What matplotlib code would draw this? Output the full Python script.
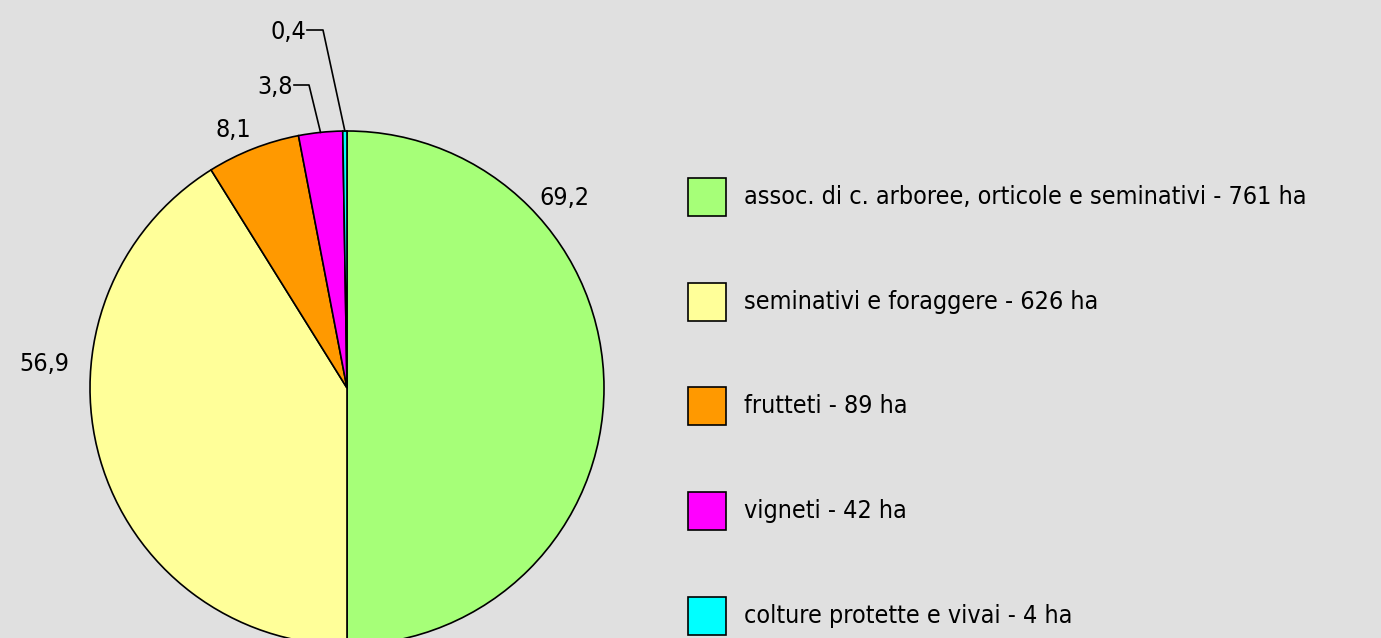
import matplotlib.pyplot as plt
import numpy as np

# Data
categories = ["assoc. di c. arboree, orticole e seminativi", "seminativi e foraggere",
              "frutteti", "vigneti", "colture protette e vivai"]
hectares = [761, 626, 89, 42, 4]
value_labels = ["69,2", "56,9", "8,1", "3,8", "0,4"]
colors = ["#A6FF78", "#FFFF99", "#FF9900", "#FF00FF", "#00FFFF"]

plt.rcParams['font.family'] = ['DejaVu Sans']
font = dict(family='DejaVu Sans', stretch='condensed', size=18)

W, H = 1381, 638
fig = plt.figure(figsize=(W / 100, H / 100), dpi=100)
fig.patch.set_facecolor("#E0E0E0")
ax = fig.add_axes([0, 0, 1, 1])

cx, cy, r = 347, H - 388, 257
wedges, _ = ax.pie(hectares, colors=colors, startangle=90, counterclock=False,
                   center=(cx, cy), radius=r, frame=True,
                   wedgeprops=dict(edgecolor="black", linewidth=1.2))
ax.set_xlim(0, W)
ax.set_ylim(0, H)
ax.set_aspect("equal")
ax.axis("off")

# value labels
ax.text(564, H - 198, value_labels[0], ha="center", va="center", fontdict=font)
ax.text(44, H - 364, value_labels[1], ha="center", va="center", fontdict=font)
ax.text(233, H - 130, value_labels[2], ha="center", va="center", fontdict=font)

# labels with leader lines for the small slices
for i, (tx, ty, kx) in zip([3, 4], [(294, 87, 309), (307, 32, 323)]):
    w = wedges[i]
    ang = np.deg2rad((w.theta1 + w.theta2) / 2)
    px, py = cx + r * np.cos(ang), cy + r * np.sin(ang)
    ax.text(tx - 1, H - ty, value_labels[i], ha="right", va="center", fontdict=font)
    ax.plot([tx, kx, px], [H - ty + 2, H - ty + 2, py], color="black", lw=1.2)

# legend
for i, (cat, ha_, col) in enumerate(zip(categories, hectares, colors)):
    y = H - (197 + i * 104.7)
    ax.add_patch(plt.Rectangle((688, y - 19), 38, 38, facecolor=col,
                               edgecolor="black", lw=1.2, clip_on=False))
    ax.text(744, y, f"{cat} - {ha_} ha", ha="left", va="center", fontdict=font)

fig.savefig("out.png", dpi=100, facecolor=fig.get_facecolor())
